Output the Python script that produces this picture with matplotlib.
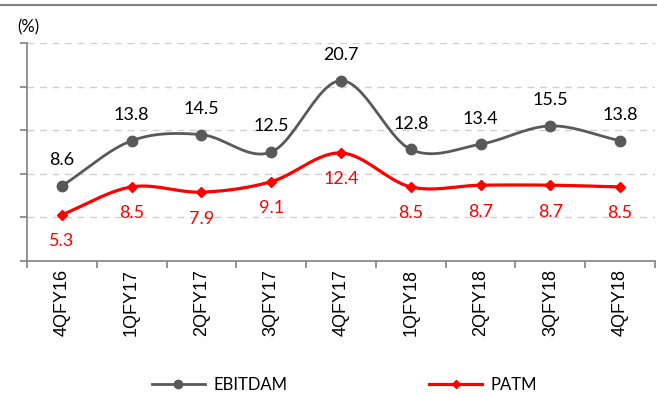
import numpy as np
import matplotlib
matplotlib.use("Agg")
import matplotlib.pyplot as plt
from matplotlib.lines import Line2D

quarters = ["4QFY16", "1QFY17", "2QFY17", "3QFY17", "4QFY17",
            "1QFY18", "2QFY18", "3QFY18", "4QFY18"]
ebitdam = [8.6, 13.8, 14.5, 12.5, 20.7, 12.8, 13.4, 15.5, 13.8]
patm = [5.3, 8.5, 7.9, 9.1, 12.4, 8.5, 8.7, 8.7, 8.5]

GREY = "#595959"
RED = "#FF0000"
LABEL_FONT = "Lato"


def smooth(x, y, n=30):
    """Catmull-Rom curve through the given points (Excel-style smoothed line)."""
    x = np.asarray(x, float)
    y = np.asarray(y, float)
    px = np.concatenate([[2 * x[0] - x[1]], x, [2 * x[-1] - x[-2]]])
    py = np.concatenate([[2 * y[0] - y[1]], y, [2 * y[-1] - y[-2]]])
    xs, ys = [], []
    t = np.linspace(0, 1, n, endpoint=False)
    for i in range(1, len(px) - 2):
        for arr, out in ((px, xs), (py, ys)):
            p0, p1, p2, p3 = arr[i - 1], arr[i], arr[i + 1], arr[i + 2]
            out.extend(0.5 * ((2 * p1) + (-p0 + p2) * t
                              + (2 * p0 - 5 * p1 + 4 * p2 - p3) * t ** 2
                              + (-p0 + 3 * p1 - 3 * p2 + p3) * t ** 3))
    xs.append(x[-1])
    ys.append(y[-1])
    return np.array(xs), np.array(ys)


fig = plt.figure(figsize=(6.57, 3.96), dpi=100)
ax = fig.add_axes([0.041, 0.341, 0.956, 0.55])

# thin rule along the top of the page
fig.add_artist(Line2D([0, 1], [1 - 5 / 396, 1 - 5 / 396], color="#808080",
                      lw=1.5, transform=fig.transFigure))

x = np.arange(len(quarters))

sx, sy = smooth(x, ebitdam)
ax.plot(sx, sy, color=GREY, lw=2, zorder=3)
ax.plot(x, ebitdam, ls="none", marker="o", ms=7.5, color=GREY, zorder=4)

sx, sy = smooth(x, patm)
ax.plot(sx, sy, color=RED, lw=2.3, zorder=3)
ax.plot(x, patm, ls="none", marker="D", ms=5, color=RED, zorder=4)

for xi, v in zip(x, ebitdam):
    ax.annotate(f"{v:.1f}", (xi, v), xytext=(0, 18.5), textcoords="offset points",
                ha="center", va="center", fontsize=13, color="black",
                family=LABEL_FONT)
for xi, v in zip(x, patm):
    ax.annotate(f"{v:.1f}", (xi, v), xytext=(0, -19), textcoords="offset points",
                ha="center", va="center", fontsize=13, color=RED,
                family=LABEL_FONT)

ax.set_xlim(-0.5, len(quarters) - 0.5)
ax.set_ylim(0, 25)
ax.set_yticks(np.arange(0, 26, 5))
ax.set_yticklabels([])
ax.set_xticks(np.arange(-0.5, len(quarters), 1.0))
ax.set_xticklabels([])
ax.set_xticks(x, minor=True)
ax.set_xticklabels(quarters, minor=True, rotation=90, fontsize=13,
                   family="Liberation Sans")
ax.tick_params(axis="x", which="minor", length=0, pad=6)
ax.tick_params(axis="x", which="major", length=5, color="#808080", width=1.2)
ax.tick_params(axis="y", length=5, color="#808080", width=1.2)

for y in np.arange(5, 26, 5):
    ax.axhline(y, color="#D0D0D0", lw=1, ls=(0, (5, 4)), zorder=1)

for side in ("top", "right"):
    ax.spines[side].set_visible(False)
for side in ("left", "bottom"):
    ax.spines[side].set_color("#808080")
    ax.spines[side].set_linewidth(1.2)

fig.text(17 / 657, 1 - 27 / 396, "(%)", fontsize=12, family=LABEL_FONT,
         ha="left", va="center")

handles = [
    Line2D([], [], color=GREY, lw=2, marker="o", ms=6),
    Line2D([], [], color=RED, lw=2.3, marker="D", ms=4.5),
]
fig.legend(handles, ["EBITDAM", "PATM"], loc="center",
           bbox_to_anchor=(0.524, 1 - 385 / 396), ncol=2, frameon=False,
           prop={"family": LABEL_FONT, "size": 12}, handlelength=3.2,
           columnspacing=8.5, handletextpad=0.5)

fig.savefig("out.png", dpi=100)
